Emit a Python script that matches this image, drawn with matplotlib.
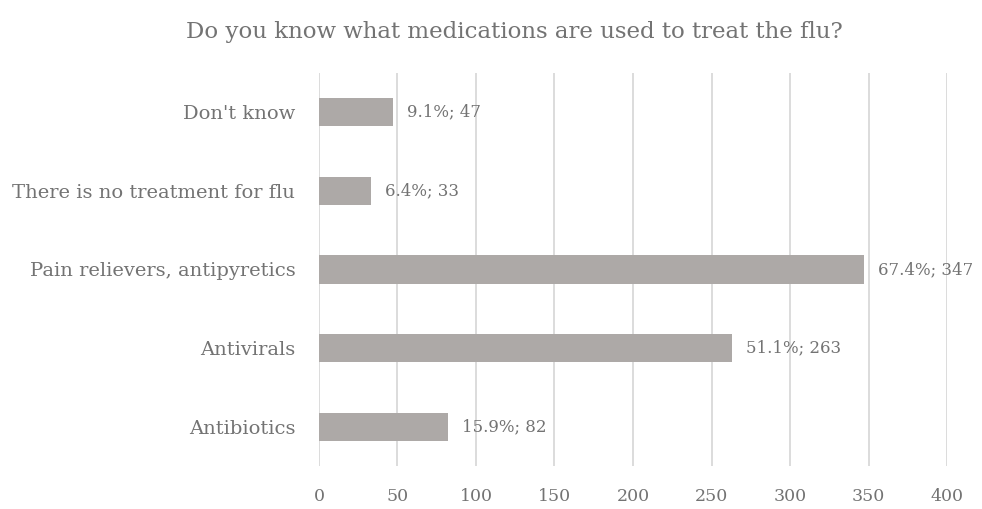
import matplotlib.pyplot as plt

categories = ["Antibiotics", "Antivirals", "Pain relievers, antipyretics",
              "There is no treatment for flu", "Don't know"]
counts = [82, 263, 347, 33, 47]
percents = ["15.9%", "51.1%", "67.4%", "6.4%", "9.1%"]
x_ticks = [0, 50, 100, 150, 200, 250, 300, 350, 400]

text_color = "#737373"
bar_color = "#ADA9A7"
grid_color = "#D9D9D9"

plt.rcParams["font.family"] = ["DejaVu Serif"]

fig = plt.figure(figsize=(9.82, 5.09), dpi=100)
ax = fig.add_axes([0.3248, 0.0845, 0.6396, 0.7721])

y = list(range(len(categories)))
ax.barh(y, counts, height=0.36, color=bar_color, zorder=3)
for yi, c, p in zip(y, counts, percents):
    ax.text(c + 9, yi, f"{p}; {c}", va="center", ha="left",
            fontsize=12, color=text_color, zorder=4)

ax.set_xlim(0, 400)
ax.set_ylim(-0.5, len(categories) - 0.5)
ax.set_xticks(x_ticks)
ax.set_yticks(y)
ax.set_yticklabels(categories)
ax.tick_params(axis="x", length=0, labelsize=12.5, colors=text_color, pad=16)
ax.tick_params(axis="y", length=0, labelsize=14, colors=text_color, pad=17)
ax.xaxis.grid(True, color=grid_color, linewidth=1.3, zorder=0)
for s in ax.spines.values():
    s.set_visible(False)

fig.text(0.524, 0.937, "Do you know what medications are used to treat the flu?",
         ha="center", va="center", fontsize=16.5, color=text_color)

fig.savefig("out.png", dpi=100)
